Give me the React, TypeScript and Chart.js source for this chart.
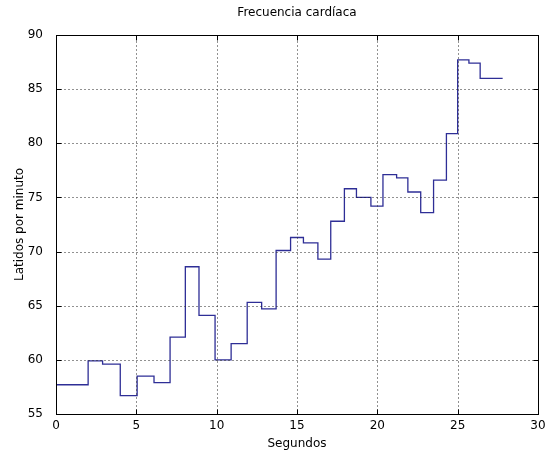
import React, { useEffect, useRef } from "react";
import { Chart, registerables } from "chart.js";

Chart.register(...registerables);

// Beat-to-beat heart rate held between beats (stairs)
const beatTimes = [
  0, 2.0, 2.9, 4.0, 5.05, 6.1, 7.1, 8.05, 8.9, 9.9, 10.9, 11.9, 12.8, 13.7, 14.6,
  15.4, 16.3, 17.1, 17.95, 18.7, 19.6, 20.35, 21.2, 21.9, 22.7, 23.5, 24.3, 25.0,
  25.7, 26.4, 27.8,
];
const heartRate = [
  57.7, 59.9, 59.6, 56.7, 58.5, 57.9, 62.1, 68.6, 64.1, 60.0, 61.5, 65.3, 64.7,
  70.1, 71.3, 70.8, 69.3, 72.8, 75.8, 75.0, 74.2, 77.1, 76.8, 75.5, 73.6, 76.6,
  80.9, 87.7, 87.4, 86.0, 86.0,
];
const xTicks = [0, 5, 10, 15, 20, 25, 30];
const yTicks = [55, 60, 65, 70, 75, 80, 85, 90];

const TITLE = "Frecuencia cardíaca";
const X_TITLE = "Segundos";
const Y_TITLE = "Latidos por minuto";
const FONT = "DejaVu Sans";

const framePlugin = {
  id: "matlabFrame",
  beforeDraw(chart: any) {
    const { ctx, width, height } = chart;
    ctx.save();
    ctx.fillStyle = "#ffffff";
    ctx.fillRect(0, 0, width, height);
    ctx.restore();
  },
  afterDatasetsDraw(chart: any) {
    const { ctx, chartArea: a, scales } = chart;
    const xs = scales.x;
    const ys = scales.y;
    const L = Math.round(a.left) + 0.5;
    const R = Math.round(a.right) + 0.5;
    const T = Math.round(a.top) + 0.5;
    const B = Math.round(a.bottom) + 0.5;
    ctx.save();
    // dotted grid
    ctx.strokeStyle = "#222222";
    ctx.lineWidth = 1;
    ctx.setLineDash([1, 3]);
    xTicks.slice(1, -1).forEach((v) => {
      const px = Math.round(xs.getPixelForValue(v)) + 0.5;
      ctx.beginPath();
      ctx.moveTo(px, B);
      ctx.lineTo(px, T);
      ctx.stroke();
    });
    yTicks.slice(1, -1).forEach((v) => {
      const py = Math.round(ys.getPixelForValue(v)) + 0.5;
      ctx.beginPath();
      ctx.moveTo(L, py);
      ctx.lineTo(R, py);
      ctx.stroke();
    });
    ctx.setLineDash([]);
    // box
    ctx.strokeStyle = "#000000";
    ctx.strokeRect(L, T, R - L, B - T);
    // inward tick marks on all sides
    const tl = 5;
    xTicks.forEach((v) => {
      const px = Math.round(xs.getPixelForValue(v)) + 0.5;
      ctx.beginPath();
      ctx.moveTo(px, B);
      ctx.lineTo(px, B - tl);
      ctx.moveTo(px, T);
      ctx.lineTo(px, T + tl);
      ctx.stroke();
    });
    yTicks.forEach((v) => {
      const py = Math.round(ys.getPixelForValue(v)) + 0.5;
      ctx.beginPath();
      ctx.moveTo(L, py);
      ctx.lineTo(L + tl, py);
      ctx.moveTo(R, py);
      ctx.lineTo(R - tl, py);
      ctx.stroke();
    });
    // texts
    ctx.fillStyle = "#000000";
    ctx.font = `12px "${FONT}"`;
    ctx.textAlign = "center";
    ctx.textBaseline = "middle";
    const cx = (a.left + a.right) / 2;
    ctx.fillText(TITLE, cx, 13);
    ctx.fillText(X_TITLE, cx, 444);
    ctx.translate(20, (a.top + a.bottom) / 2);
    ctx.rotate(-Math.PI / 2);
    ctx.fillText(Y_TITLE, 0, 0);
    ctx.restore();
  },
};

export default function App() {
  const ref = useRef<HTMLCanvasElement>(null);

  useEffect(() => {
    if (!ref.current) return;
    const chart = new Chart(ref.current, {
      type: "line",
      data: {
        datasets: [
          {
            data: beatTimes.map((t, i) => ({ x: t, y: heartRate[i] })),
            // hold each value until the next beat
            stepped: "before",
            borderColor: "#2e2e96",
            borderWidth: 1.3,
            pointRadius: 0,
            fill: false,
          },
        ],
      },
      options: {
        responsive: false,
        animation: false,
        layout: { padding: { top: 35, right: 12, left: 0, bottom: 0 } },
        plugins: {
          legend: { display: false },
          tooltip: { enabled: false },
          title: { display: false },
        },
        scales: {
          x: {
            type: "linear",
            min: 0,
            max: 30,
            grid: { display: false },
            border: { display: false },
            afterBuildTicks: (s: any) => {
              s.ticks = xTicks.map((v) => ({ value: v }));
            },
            afterFit: (s: any) => {
              s.height = 38;
            },
            ticks: {
              color: "#000000",
              font: { family: FONT, size: 12 },
              padding: -3,
              maxRotation: 0,
              autoSkip: false,
            },
          },
          y: {
            type: "linear",
            min: 55,
            max: 90,
            grid: { display: false },
            border: { display: false },
            afterBuildTicks: (s: any) => {
              s.ticks = yTicks.map((v) => ({ value: v }));
            },
            afterFit: (s: any) => {
              s.width = 56;
            },
            ticks: {
              color: "#000000",
              font: { family: FONT, size: 12 },
              padding: 5,
              autoSkip: false,
            },
          },
        },
      },
      plugins: [framePlugin],
    });
    return () => chart.destroy();
  }, []);

  return (
    <div style={{ position: "absolute", left: 0, top: 0, width: 550, height: 452 }}>
      <canvas ref={ref} width={550} height={452} />
    </div>
  );
}
